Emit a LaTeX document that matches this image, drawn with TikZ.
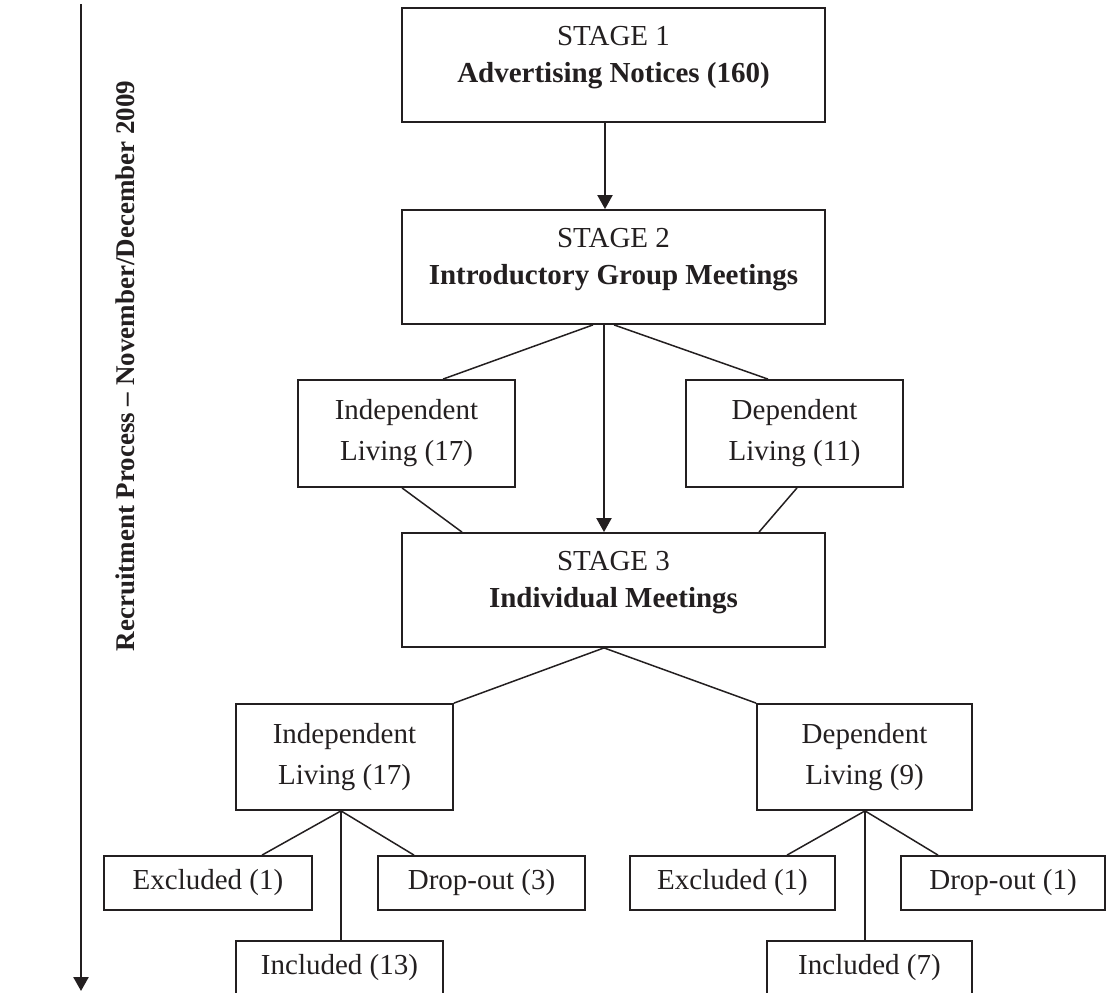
\documentclass[tikz,border=0pt]{standalone}
\usepackage{fontspec}
\setmainfont{Liberation Serif}
\usetikzlibrary{arrows.meta}
\definecolor{ink}{RGB}{35,31,32}
\begin{document}
\begin{tikzpicture}[x=1pt,y=-1pt,
  box/.style={draw=ink, line width=1.8pt, inner sep=0pt},
  body/.style={font=\fontsize{29}{41}\selectfont, text=ink, align=center},
  txt/.style={font=\fontsize{29}{37}\selectfont, text=ink, inner sep=0pt, anchor=base},
  btxt/.style={txt, font=\fontsize{29}{37}\selectfont\bfseries},
  link/.style={draw=ink, line width=1.5pt},
  flow/.style={draw=ink, line width=2pt, -{Triangle[width=15pt,length=14pt]}}]
\useasboundingbox (0,0) rectangle (1106,993);

% time axis on the left
\coordinate (ttop) at (81,4);
\coordinate (tbot) at (81,991);
\draw[flow, line width=2.5pt] (ttop) -- (tbot);
\node[rotate=90, text=ink, font=\fontsize{27}{32}\selectfont\bfseries] (axis) at (125,366)
  {Recruitment Process – November/December 2009};

% stage boxes
\node[box, minimum width=423pt, minimum height=114pt] (s1) at (613.5,65) {};
\node[txt]  (s1a) at (613.5,45) {STAGE 1};
\node[btxt] (s1b) at (613.5,82) {Advertising Notices (160)};

\node[box, minimum width=423pt, minimum height=114pt] (s2) at (613.5,267) {};
\node[txt]  (s2a) at (613.5,247) {STAGE 2};
\node[btxt] (s2b) at (613.5,284) {Introductory Group Meetings};

\node[box, minimum width=423pt, minimum height=114pt] (s3) at (613.5,590) {};
\node[txt]  (s3a) at (613.5,570) {STAGE 3};
\node[btxt] (s3b) at (613.5,607) {Individual Meetings};

% living groups after stage 2
\node[box, body, minimum width=217pt, minimum height=107pt] (i1) at (406.5,433.5) {Independent\\Living (17)};
\node[box, body, minimum width=217pt, minimum height=107pt] (d1) at (794.5,433.5) {Dependent\\Living (11)};

% living groups after stage 3
\node[box, body, minimum width=217pt, minimum height=106pt] (i2) at (344.5,757) {Independent\\Living (17)};
\node[box, body, minimum width=215pt, minimum height=106pt] (d2) at (864.5,757) {Dependent\\Living (9)};

% outcomes
\node[box, body, minimum width=208pt, minimum height=54pt] (e1) at (208,883) {Excluded (1)};
\node[box, body, minimum width=207pt, minimum height=54pt] (o1) at (481.5,883) {Drop-out (3)};
\node[box, body, minimum width=207pt, minimum height=54pt] (n1) at (339.5,968) {Included (13)};
\node[box, body, minimum width=205pt, minimum height=54pt] (e2) at (732.5,883) {Excluded (1)};
\node[box, body, minimum width=204pt, minimum height=54pt] (o2) at (1003,883) {Drop-out (1)};
\node[box, body, minimum width=205pt, minimum height=54pt] (n2) at (869.5,968) {Included (7)};

% main flow
\draw[flow] ([xshift=-8.5pt]s1.south) -- ([xshift=-8.5pt]s2.north);
\draw[flow] ([xshift=-9.5pt]s2.south) -- ([xshift=-9.5pt]s3.north);

% branches between stage 2 and stage 3
\draw[link] ([xshift=-20.5pt]s2.south) -- ([xshift=36.5pt]i1.north);
\draw[link] ([xshift=0.5pt]s2.south) -- ([xshift=-26.5pt]d1.north);
\draw[link] ([xshift=-4.5pt]i1.south) -- ([xshift=-151.5pt]s3.north);
\draw[link] ([xshift=2.5pt]d1.south) -- ([xshift=145.5pt]s3.north);

% branches after stage 3
\draw[link] ([xshift=-9.5pt]s3.south) -- (i2.north east);
\draw[link] ([xshift=-9.5pt]s3.south) -- (d2.north west);

\coordinate (i2f) at ([xshift=-3.5pt]i2.south);
\draw[link] (i2f) -- ([xshift=54pt]e1.north);
\draw[link] (i2f) -- ([xshift=-67.5pt]o1.north);
\draw[link] (i2f) -- (i2f |- n1.north);

\coordinate (d2f) at ([xshift=0.5pt]d2.south);
\draw[link] (d2f) -- ([xshift=54.5pt]e2.north);
\draw[link] (d2f) -- ([xshift=-65pt]o2.north);
\draw[link] (d2f) -- (d2f |- n2.north);
\end{tikzpicture}
\end{document}
